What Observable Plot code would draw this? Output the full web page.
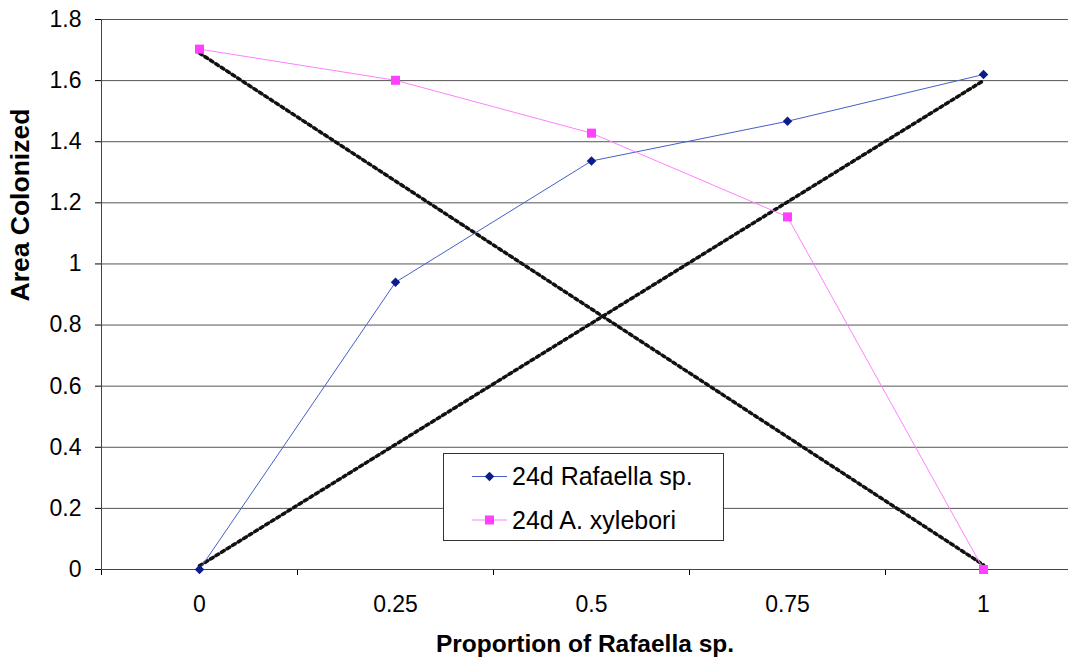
<!DOCTYPE html>
<html><head><meta charset="utf-8">
<script src="https://cdn.jsdelivr.net/npm/d3@7"></script>
<script src="https://cdn.jsdelivr.net/npm/@observablehq/plot@0.6"></script>
<style>body{margin:0;background:#fff} #chart svg{display:block}</style>
</head><body><div id="chart"></div>
<script>
const proportions = [0, 0.25, 0.5, 0.75, 1];
const xTickLabels = ["0", "0.25", "0.5", "0.75", "1"];
const rafaella = [0, 0.94, 1.337, 1.467, 1.62];
const xylebori = [1.703, 1.601, 1.428, 1.154, 0];
const expectedX = [0, 1];
const expectedRafaella = [0.012, 1.6];
const expectedXylebori = [1.69, 0.015];
const yTicks = [0, 0.2, 0.4, 0.6, 0.8, 1, 1.2, 1.4, 1.6, 1.8];
const yTickLabels = ["0", "0.2", "0.4", "0.6", "0.8", "1", "1.2", "1.4", "1.6", "1.8"];
const xBoundaries = [-0.125, 0.125, 0.375, 0.625, 0.875];
const seriesNames = ["24d Rafaella sp.", "24d A. xylebori"];
const xTitle = "Proportion of Rafaella sp.";
const yTitle = "Area Colonized";

const rafRows = proportions.map((x, i) => ({x, y: rafaella[i]}));
const xylRows = proportions.map((x, i) => ({x, y: xylebori[i]}));
const upRows = expectedX.map((x, i) => ({x, y: expectedRafaella[i]}));
const downRows = expectedX.map((x, i) => ({x, y: expectedXylebori[i]}));

const blueLine = "#4460c8", blueMark = "#0c1c8c";
const pinkLine = "#ff80ff", pinkMark = "#ff40ff";
const font = "'Liberation Sans', Arial, sans-serif";

const dotted = (rows) => [
  Plot.line(rows, {x: "x", y: "y", stroke: "#111", strokeWidth: 3.5, strokeDasharray: "3,3.5"})
];

const chart = Plot.plot({
  width: 1068, height: 658,
  marginLeft: 101, marginRight: 0, marginTop: 19, marginBottom: 89,
  style: {fontFamily: font, fontSize: "23px", color: "#000", background: "#fff"},
  x: {domain: [-0.125, 1.1084], ticks: xBoundaries, tickSize: 6, tickFormat: () => "", label: null},
  y: {domain: [0, 1.8], ticks: yTicks, tickSize: 6, tickFormat: () => "", label: null},
  marks: [
    Plot.ruleY(yTicks.slice(1), {stroke: "#555"}),
    Plot.ruleY([0], {stroke: "#444"}),
    Plot.ruleX([-0.125], {stroke: "#444"}),
    Plot.text(yTicks, {x: -0.125, y: d => d, text: (d, i) => yTickLabels[i], textAnchor: "end", dx: -20, fontSize: 23}),
    Plot.text(proportions, {x: d => d, y: 0, text: (d, i) => xTickLabels[i], lineAnchor: "top", dy: 26, fontSize: 23}),
    ...dotted(downRows),
    ...dotted(upRows),
    Plot.line(rafRows, {x: "x", y: "y", stroke: blueLine, strokeWidth: 1}),
    Plot.line(xylRows, {x: "x", y: "y", stroke: pinkLine, strokeWidth: 1}),
    Plot.dot(rafRows, {x: "x", y: "y", symbol: "diamond2", r: 4.3, fill: blueMark, stroke: null}),
    Plot.dot(xylRows, {x: "x", y: "y", symbol: "square", r: 5.1, fill: pinkMark, stroke: null}),
    Plot.text([xTitle], {frameAnchor: "bottom", lineAnchor: "top", dy: 65, fontSize: 24.5, fontWeight: "bold"}),
    Plot.text([yTitle], {frameAnchor: "left", rotate: -90, dx: -80.5, dy: 7, fontSize: 26.5, fontWeight: "bold"})
  ]
});
document.getElementById("chart").appendChild(chart);

// Legend box drawn inside the plot area
const svg = d3.select(chart);
const lg = svg.append("g").attr("font-family", font).attr("font-size", 25).attr("text-anchor", "start");
lg.append("rect").attr("x", 443.5).attr("y", 453.5).attr("width", 280).attr("height", 87)
  .attr("fill", "#fff").attr("stroke", "#333");
const items = [
  {name: seriesNames[0], line: blueLine, mark: blueMark, sym: d3.symbolDiamond2, size: 58},
  {name: seriesNames[1], line: pinkLine, mark: pinkMark, sym: d3.symbolSquare, size: 81}
];
items.forEach((it, i) => {
  const cy = 476.5 + i * 43.5;
  lg.append("line").attr("x1", 472).attr("x2", 507).attr("y1", cy).attr("y2", cy).attr("stroke", it.line);
  lg.append("path").attr("transform", `translate(489.5,${cy})`).attr("d", d3.symbol(it.sym, it.size)()).attr("fill", it.mark);
  lg.append("text").attr("x", 512).attr("y", cy).attr("dy", "0.35em").attr("fill", "#000").attr("text-anchor", "start").text(it.name);
});
</script>
</body></html>
